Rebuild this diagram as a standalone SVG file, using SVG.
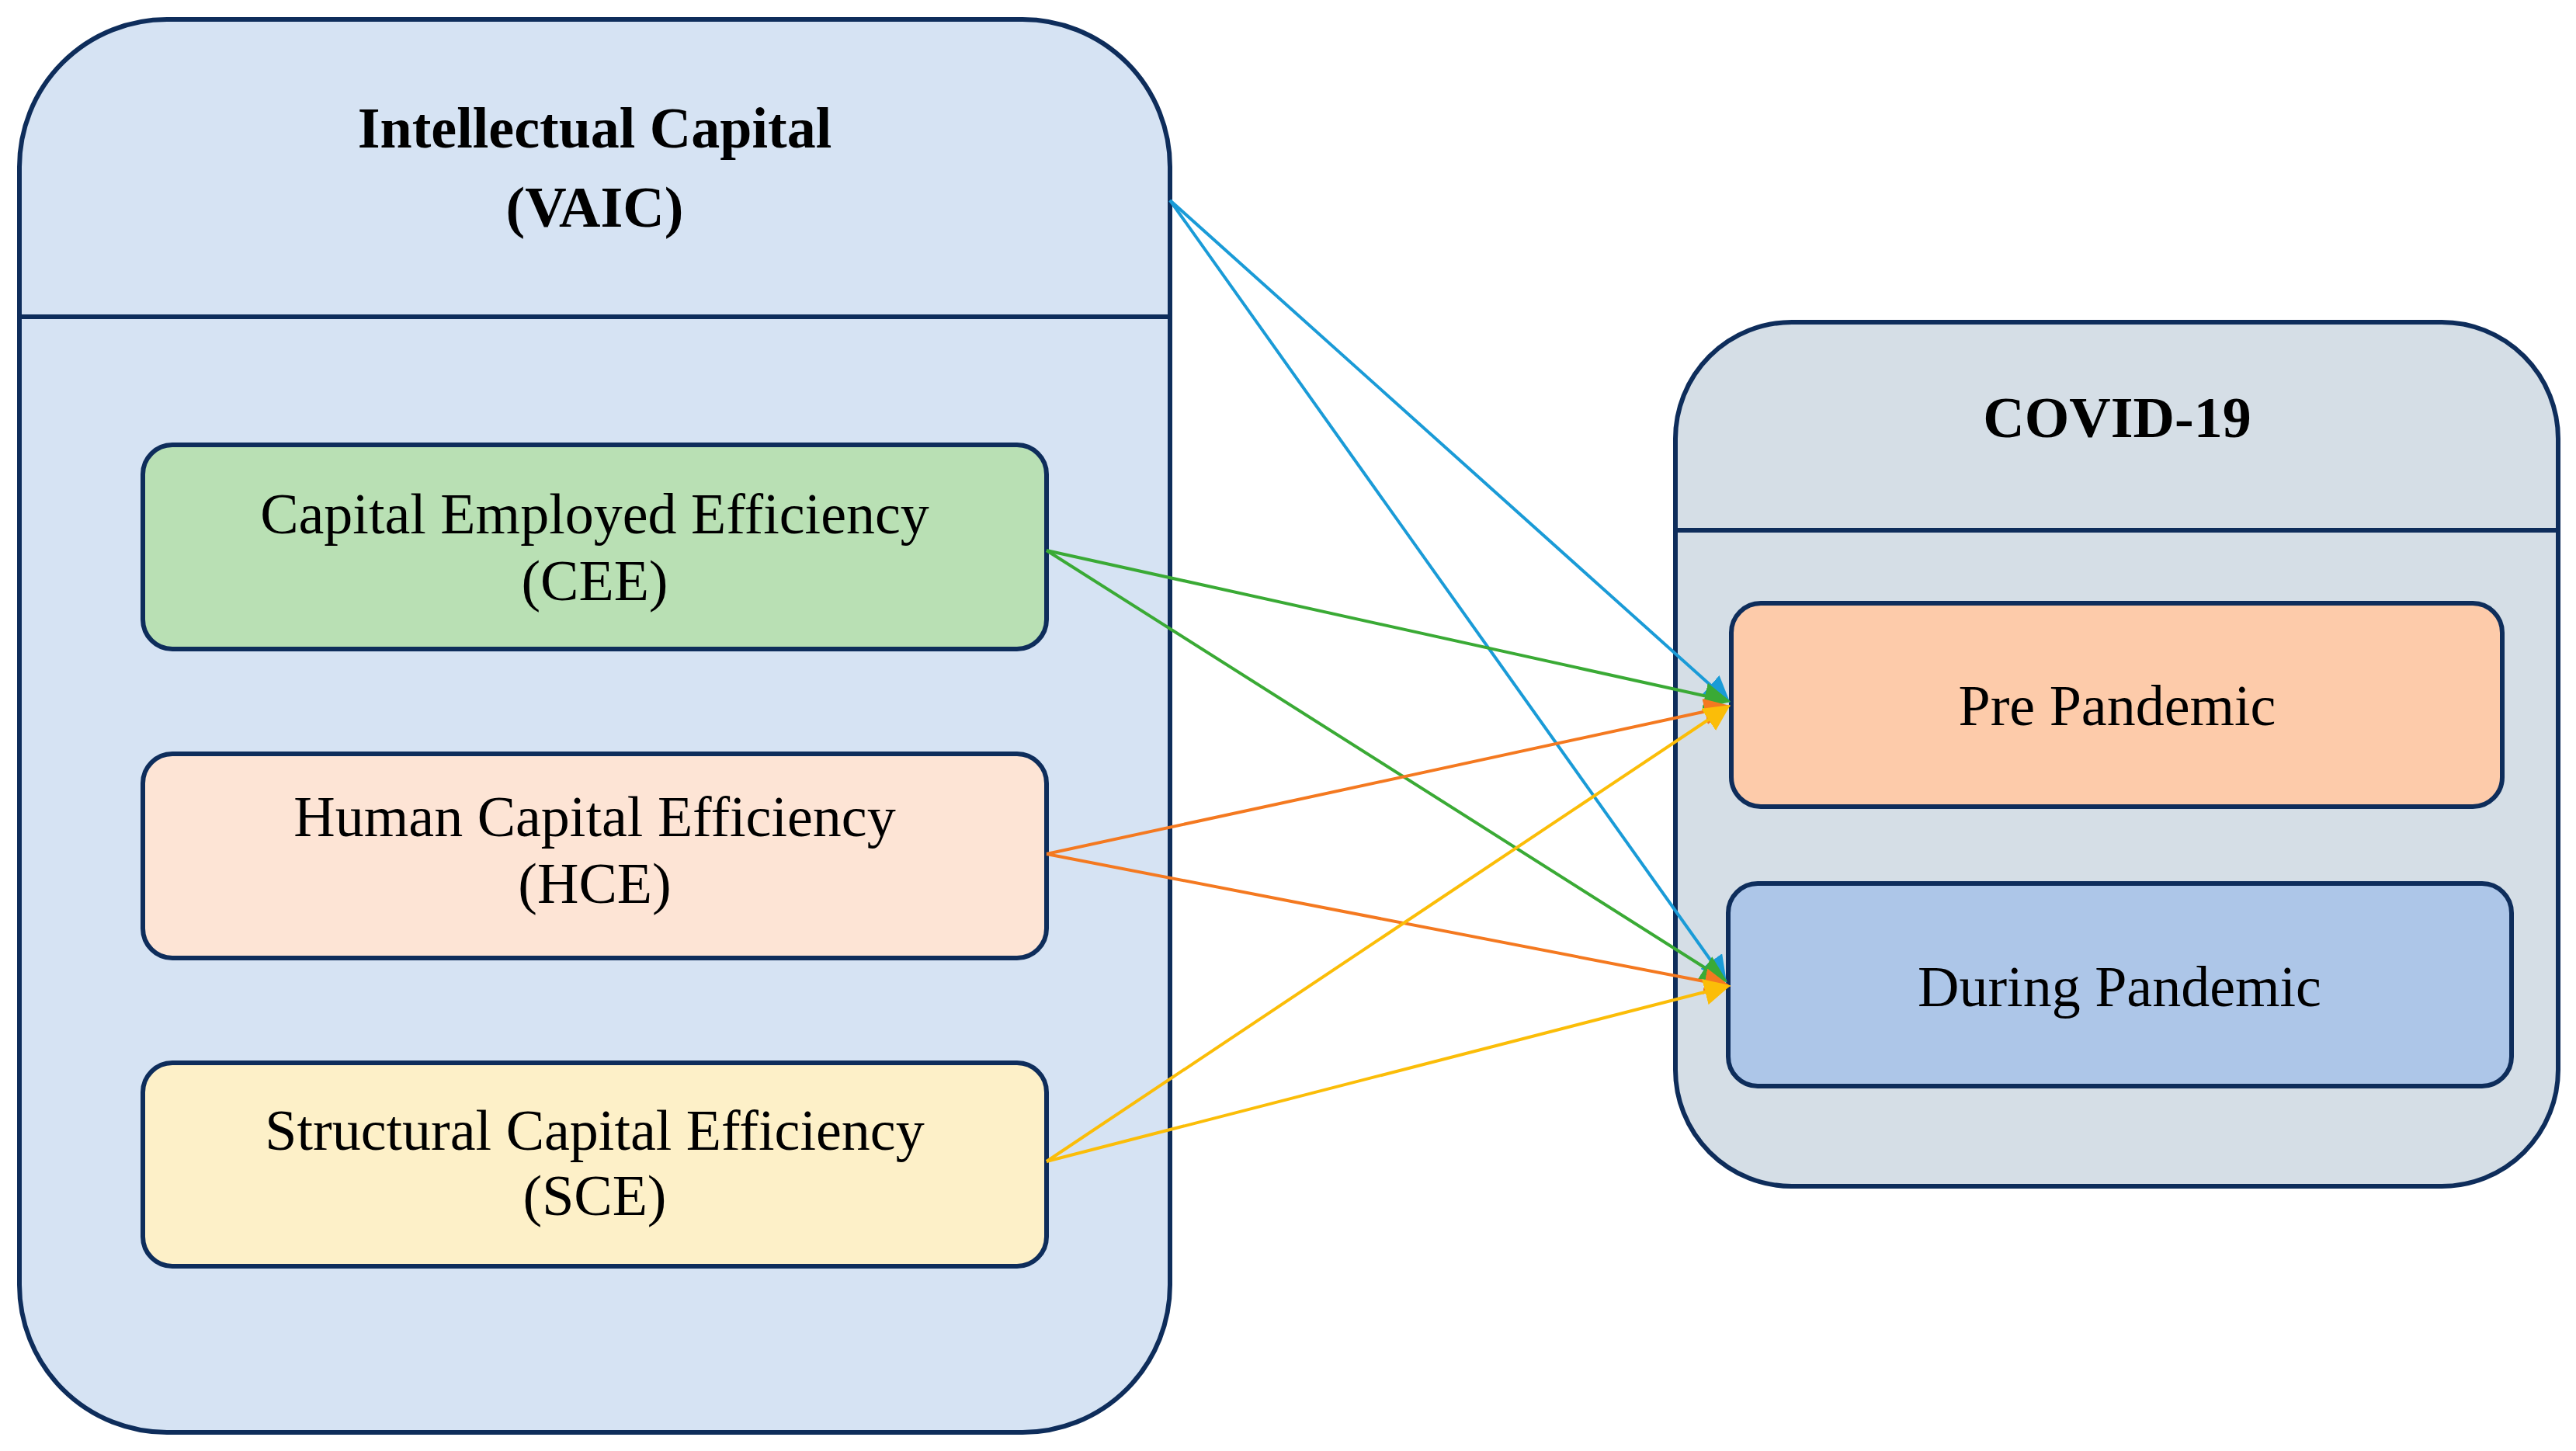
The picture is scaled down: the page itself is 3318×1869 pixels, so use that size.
<svg xmlns="http://www.w3.org/2000/svg" width="3318" height="1869" viewBox="0 0 3318 1869">
<style>
.c{stroke:#0e2d5b;stroke-width:6}
.t{font-family:"Liberation Serif",serif;font-size:74px;fill:#000;text-anchor:middle}
.b{font-weight:bold}
.a{fill:none;stroke-width:4}
</style>
<defs>
<marker id="mb" markerWidth="10" markerHeight="10" refX="9" refY="5" orient="auto" markerUnits="userSpaceOnUse" viewBox="0 0 10 10" ><path d="M0,0L10,5L0,10z" fill="#1a9bd7"/></marker>
<marker id="mg" viewBox="0 0 10 10" refX="9" refY="5" markerWidth="34" markerHeight="34" orient="auto" markerUnits="userSpaceOnUse"><path d="M0,0L10,5L0,10z" fill="#3aaa35"/></marker>
<marker id="mo" viewBox="0 0 10 10" refX="9" refY="5" markerWidth="34" markerHeight="34" orient="auto" markerUnits="userSpaceOnUse"><path d="M0,0L10,5L0,10z" fill="#f47920"/></marker>
<marker id="my" viewBox="0 0 10 10" refX="9" refY="5" markerWidth="34" markerHeight="34" orient="auto" markerUnits="userSpaceOnUse"><path d="M0,0L10,5L0,10z" fill="#fbbd08"/></marker>
<marker id="mbl" viewBox="0 0 10 10" refX="9" refY="5" markerWidth="34" markerHeight="34" orient="auto" markerUnits="userSpaceOnUse"><path d="M0,0L10,5L0,10z" fill="#1a9bd7"/></marker>
</defs>
<g id="ic">
<rect class="c" x="25" y="25" width="1482" height="1820" rx="190" fill="#d6e3f3"/>
<line class="c" x1="25" y1="408" x2="1507" y2="408" stroke-width="4"/>
<text class="t b" x="766" y="190">Intellectual Capital</text>
<text class="t b" x="766" y="292">(VAIC)</text>
</g>
<g id="cee"><rect class="c" x="184" y="573" width="1164" height="263" rx="38" fill="#b9e0b4"/>
<text class="t" x="766" y="687">Capital Employed Efficiency</text><text class="t" x="766" y="773">(CEE)</text></g>
<g id="hce"><rect class="c" x="184" y="971" width="1164" height="263" rx="38" fill="#fde4d5"/>
<text class="t" x="766" y="1077">Human Capital Efficiency</text><text class="t" x="766" y="1163">(HCE)</text></g>
<g id="sce"><rect class="c" x="184" y="1369" width="1164" height="262" rx="38" fill="#fdf0c8"/>
<text class="t" x="766" y="1481">Structural Capital Efficiency</text><text class="t" x="766" y="1565">(SCE)</text></g>
<g id="covid">
<rect class="c" x="2158" y="415" width="1137" height="1113" rx="150" fill="#d5dee6"/>
<line class="c" x1="2158" y1="683" x2="3295" y2="683" stroke-width="4"/>
<text class="t b" x="2727" y="563">COVID-19</text>
</g>
<g id="pre"><rect class="c" x="2230" y="777" width="993" height="262" rx="38" fill="#fdcbaa"/>
<text class="t" x="2727" y="934">Pre Pandemic</text></g>
<g id="during"><rect class="c" x="2226" y="1138" width="1009" height="261" rx="38" fill="#adc6e8"/>
<text class="t" x="2730" y="1296">During Pandemic</text></g>
<g id="connectors">
<path class="a" stroke="#1a9bd7" d="M1507,258L2226,903" marker-end="url(#mbl)"/>
<path class="a" stroke="#1a9bd7" d="M1507,258L2222,1263" marker-end="url(#mbl)"/>
<path class="a" stroke="#3aaa35" d="M1348,709L2226,903" marker-end="url(#mg)"/>
<path class="a" stroke="#3aaa35" d="M1348,709L2222,1263" marker-end="url(#mg)"/>
<path class="a" stroke="#f47920" d="M1348,1100L2226,910" marker-end="url(#mo)"/>
<path class="a" stroke="#f47920" d="M1348,1100L2226,1270" marker-end="url(#mo)"/>
<path class="a" stroke="#fbbd08" d="M1348,1496L2226,910" marker-end="url(#my)"/>
<path class="a" stroke="#fbbd08" d="M1348,1496L2226,1270" marker-end="url(#my)"/>
</g>
</svg>
